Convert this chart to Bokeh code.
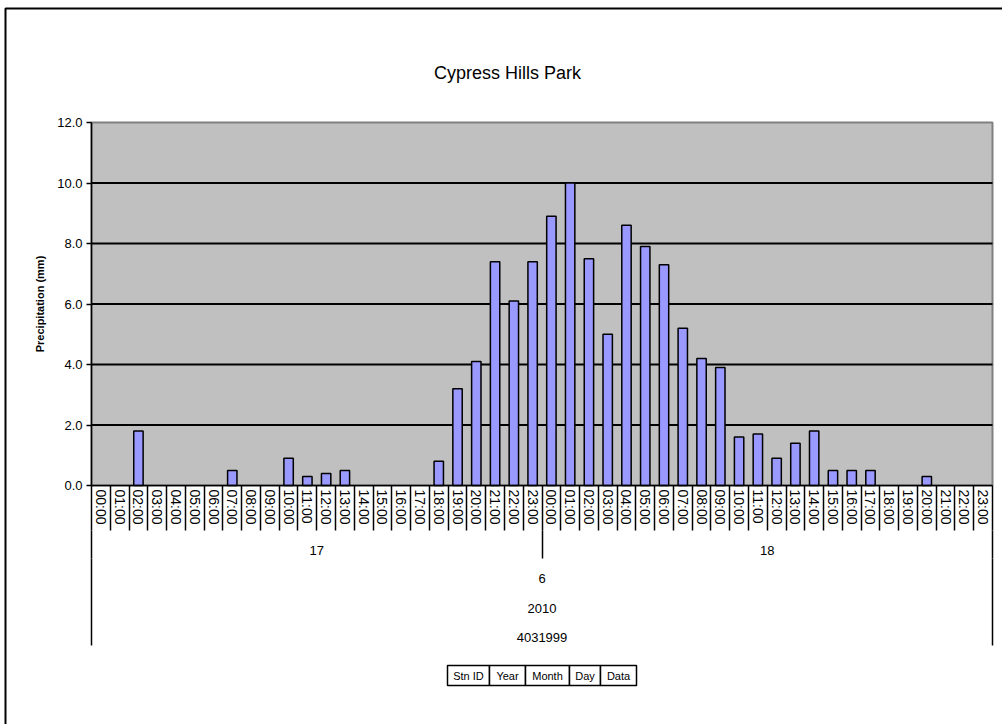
import numpy as np
from bokeh.plotting import figure
from bokeh.models import (Range1d, LinearAxis, FixedTicker, PrintfTickFormatter,
                          Label, PolyAnnotation, ColumnDataSource, CDSView, BooleanFilter)
from bokeh.embed import file_html
from bokeh.resources import INLINE

# ---- data -------------------------------------------------------------
title_text = "Cypress Hills Park"
y_title = "Precipitation (mm)"
station = "4031999"
year = "2010"
month = "6"
days = ["17", "18"]
hours = ["00:00", "01:00", "02:00", "03:00", "04:00", "05:00", "06:00", "07:00",
         "08:00", "09:00", "10:00", "11:00", "12:00", "13:00", "14:00", "15:00",
         "16:00", "17:00", "18:00", "19:00", "20:00", "21:00", "22:00", "23:00"]
precip_day17 = [0.0, 0.0, 1.8, 0.0, 0.0, 0.0, 0.0, 0.5, 0.0, 0.0, 0.9, 0.3,
                0.4, 0.5, 0.0, 0.0, 0.0, 0.0, 0.8, 3.2, 4.1, 7.4, 6.1, 7.4]
precip_day18 = [8.9, 10.0, 7.5, 5.0, 8.6, 7.9, 7.3, 5.2, 4.2, 3.9, 1.6, 1.7,
                0.9, 1.4, 1.8, 0.5, 0.5, 0.5, 0.0, 0.0, 0.3, 0.0, 0.0, 0.0]
y_ticks = [0.0, 2.0, 4.0, 6.0, 8.0, 10.0, 12.0]
pivot_fields = ["Stn ID", "Year", "Month", "Day", "Data"]

# ---- layout (canvas pixels) -------------------------------------------
FONT = "Liberation Sans"
W, H = 1002, 724
LEFT, RIGHT, TOP, BOTTOM = 91, 992, 122, 485     # plot area

values = precip_day17 + precip_day18
labels = hours + hours
n = len(values)
idx = list(range(n))

ppx = (RIGHT - LEFT) / n                              # pixels per category
ppu = (BOTTOM - TOP) / (y_ticks[-1] - y_ticks[0])     # pixels per mm


def xd(px):
    """canvas x pixel -> category coordinate"""
    return (px - LEFT) / ppx - 0.5


def yd(py):
    """canvas y pixel -> mm coordinate"""
    return (BOTTOM - py) / ppu


# The frame fills the whole canvas; the plot area sits inside it.
p = figure(width=W, height=H,
           x_range=Range1d(xd(0), xd(W)), y_range=Range1d(yd(H), yd(0)),
           x_axis_location=None, y_axis_location=None,
           output_backend="svg", toolbar_location=None,
           min_border=0, background_fill_color="white",
           border_fill_color="white", outline_line_color=None)
p.xgrid.visible = False
p.ygrid.visible = False

# plot area background
p.quad(left=-0.5, right=n - 0.5, bottom=y_ticks[0], top=y_ticks[-1],
       fill_color="#C0C0C0", line_color="#808080", line_width=2)

# horizontal gridlines
inner = y_ticks[1:-1]
p.segment(x0=[-0.5] * len(inner), x1=[n - 0.5] * len(inner), y0=inner, y1=inner,
          line_color="black", line_width=2)

# bars (empty hours carry no bar)
src = ColumnDataSource(dict(x=idx, top=values))
p.vbar(x="x", top="top", width=0.5, bottom=0, source=src,
       view=CDSView(filter=BooleanFilter([v > 0 for v in values])),
       fill_color="#9999FF", line_color="black", line_width=1.5)

# ---- value axis --------------------------------------------------------
yax = LinearAxis(fixed_location=-0.5, bounds=(y_ticks[0], y_ticks[-1]),
                 ticker=FixedTicker(ticks=y_ticks),
                 formatter=PrintfTickFormatter(format="%.1f"),
                 major_tick_out=5, major_tick_in=0,
                 minor_tick_out=0, minor_tick_in=0,
                 axis_line_color="black", axis_line_width=1.5,
                 major_tick_line_color="black", major_tick_line_width=1.5,
                 major_label_text_font=FONT, major_label_text_font_size="13px",
                 major_label_text_color="black", major_label_standoff=4,
                 axis_label=y_title, axis_label_text_font=FONT,
                 axis_label_text_font_size="11px", axis_label_text_font_style="bold",
                 axis_label_text_color="black", axis_label_standoff=8)
p.add_layout(yax, "left")


# ---- multi-level category axis ----------------------------------------
def rule_axis(py, separators, length, line=False):
    """separator lines hanging below the category axis"""
    ax = LinearAxis(fixed_location=yd(py), bounds=(-0.5, n - 0.5),
                    ticker=FixedTicker(ticks=[], minor_ticks=list(separators)),
                    major_tick_out=0, major_tick_in=0,
                    minor_tick_in=0, minor_tick_out=length,
                    minor_tick_line_color="black", minor_tick_line_width=1.5,
                    major_label_text_font_size="0px",
                    axis_line_color="black" if line else None, axis_line_width=1.5)
    p.add_layout(ax, "below")


def label_axis(py, ticks, texts, orientation="horizontal", size="13px", standoff=6):
    """one row of category labels"""
    ax = LinearAxis(fixed_location=yd(py), bounds=(-0.5, n - 0.5),
                    ticker=FixedTicker(ticks=list(ticks)),
                    major_label_overrides={t: s for t, s in zip(ticks, texts)},
                    major_label_orientation=orientation,
                    major_label_standoff=standoff,
                    major_label_text_font=FONT,
                    major_label_text_font_size=size,
                    major_label_text_color="black",
                    major_tick_out=0, major_tick_in=0,
                    minor_tick_out=0, minor_tick_in=0,
                    axis_line_color=None)
    p.add_layout(ax, "below")


bounds = [i - 0.5 for i in range(n + 1)]
hours_per_day = len(hours)
day_centers = [d * hours_per_day + (hours_per_day - 1) / 2 for d in range(len(days))]
day_bounds = [d * hours_per_day - 0.5 for d in range(len(days) + 1)]
mid = (n - 1) / 2

rule_axis(BOTTOM, bounds, 45, line=True)
rule_axis(530, day_bounds, 28)
rule_axis(558, [bounds[0], bounds[-1]], 87)

label_axis(BOTTOM, idx, labels, orientation="vertical", size="14px", standoff=4)
label_axis(539, day_centers, days)
label_axis(567, [mid], [month])
label_axis(597, [mid], [year])
label_axis(626, [mid], [station])

# ---- title, chart border, pivot field buttons --------------------------
p.add_layout(Label(x=xd(507), y=yd(72), text=title_text,
                   text_align="center", text_baseline="middle",
                   text_font=FONT, text_font_size="18px", text_color="black"))

p.add_layout(PolyAnnotation(xs=[xd(5), xd(5), xd(1100), xd(1100)],
                            ys=[yd(900), yd(8), yd(8), yd(900)],
                            fill_color=None, line_color="black",
                            line_alpha=1.0, line_width=2))

pivot_edges = [447, 489, 525, 569, 600, 636]
for name, x0, x1 in zip(pivot_fields, pivot_edges[:-1], pivot_edges[1:]):
    p.add_layout(PolyAnnotation(xs=[xd(x0), xd(x1), xd(x1), xd(x0)],
                                ys=[yd(665), yd(665), yd(685), yd(685)],
                                fill_color="white", fill_alpha=1.0,
                                line_color="black", line_alpha=1.0, line_width=1.5))
    p.add_layout(Label(x=xd((x0 + x1) / 2), y=yd(675), text=name,
                       text_align="center", text_baseline="middle",
                       text_font=FONT, text_font_size="11px", text_color="black"))

open("out.html", "w").write(file_html(p, INLINE))
